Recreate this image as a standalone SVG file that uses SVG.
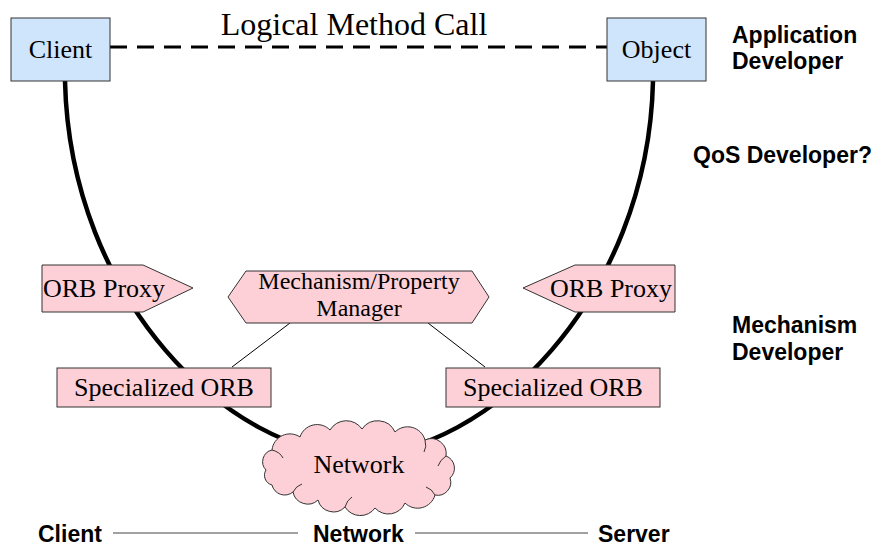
<svg xmlns="http://www.w3.org/2000/svg" width="881" height="546" viewBox="0 0 881 546">
  <style>
    .serif { font-family: "Liberation Serif", "Times New Roman", serif; fill: #000; }
    .label { font-family: "Liberation Sans", Arial, sans-serif; font-weight: bold; font-size: 23px; fill: #000; }
    .obj { fill: #cfe5fc; stroke: #333; stroke-width: 1; }
    .orb { fill: #fdd0d7; stroke: #333; stroke-width: 1; }
    .curl { fill: none; stroke: #333; stroke-width: 1; }
    .path { fill: none; stroke: #000; stroke-width: 4.5; }
    .link { fill: none; stroke: #000; stroke-width: 1; }
    .rule { stroke: #444; stroke-width: 1.2; }
  </style>
  <rect width="881" height="546" fill="#fff"/>

  <!-- connectors -->
  <g id="connectors">
    <path class="path" d="M65,81 C70,300 230,455 358,455 C486,455 648,300 653,81"/>
    <line x1="110" y1="47" x2="607" y2="47" stroke="#000" stroke-width="3" stroke-dasharray="17 10"/>
    <line class="link" x1="290" y1="323" x2="232" y2="367"/>
    <line class="link" x1="428" y1="323" x2="485" y2="367"/>
  </g>

  <text class="serif" x="354" y="35" font-size="32" text-anchor="middle">Logical Method Call</text>

  <g id="client">
    <rect class="obj" x="11" y="18" width="99" height="63"/>
    <text class="serif" x="60.5" y="58" font-size="26" text-anchor="middle">Client</text>
  </g>
  <g id="object">
    <rect class="obj" x="607" y="18" width="99" height="63"/>
    <text class="serif" x="656.5" y="58" font-size="26" text-anchor="middle">Object</text>
  </g>

  <g id="orb-proxy-client">
    <polygon class="orb" points="42,265 143,265 193,288 143,312 42,312"/>
    <text class="serif" x="43" y="297" font-size="26">ORB Proxy</text>
  </g>
  <g id="orb-proxy-server">
    <polygon class="orb" points="523,288 575,265 675,265 675,312 575,312"/>
    <text class="serif" x="672" y="297" font-size="26" text-anchor="end">ORB Proxy</text>
  </g>

  <g id="manager">
    <polygon class="orb" points="228,297 246,271 472,271 489,297 472,323 246,323"/>
    <text class="serif" x="359" y="289" font-size="24" text-anchor="middle">Mechanism/Property</text>
    <text class="serif" x="359" y="316" font-size="24" text-anchor="middle">Manager</text>
  </g>

  <g id="specialized-orb-client">
    <rect class="orb" x="57" y="368" width="214" height="39"/>
    <text class="serif" x="164" y="396" font-size="26" text-anchor="middle">Specialized ORB</text>
  </g>
  <g id="specialized-orb-server">
    <rect class="orb" x="446" y="368" width="214" height="39"/>
    <text class="serif" x="553" y="396" font-size="26" text-anchor="middle">Specialized ORB</text>
  </g>

  <g id="network">
    <path class="orb" d="M266,470 A12,12 0 0 1 272,450 A18,18 0 0 1 300,437 A18,18 0 0 1 330,430 A19,19 0 0 1 362,429 A19,19 0 0 1 395,432 A18,18 0 0 1 425,440 A15,15 0 0 1 446,456 A13,13 0 0 1 450,478 A13,13 0 0 1 435,495 A18,18 0 0 1 405,503 A18,18 0 0 1 375,508 A18,18 0 0 1 345,507 A16,16 0 0 1 318,500 A15,15 0 0 1 293,492 A13,13 0 0 1 272,485 A10,10 0 0 1 266,470 Z"/>
    <!-- inner curls of the cloud outline -->
    <path class="curl" d="M272,450 Q280,452 283,458"/>
    <path class="curl" d="M425,440 Q427,447 424,452"/>
    <path class="curl" d="M446,456 Q440,460 438,466"/>
    <path class="curl" d="M435,495 Q432,489 426,487"/>
    <path class="curl" d="M293,492 Q296,486 302,484"/>
    <path class="curl" d="M345,507 Q347,500 352,497"/>
    <text class="serif" x="359" y="473" font-size="26" text-anchor="middle">Network</text>
  </g>

  <g id="roles">
    <text class="label" x="732" y="43">Application</text>
    <text class="label" x="732" y="69">Developer</text>
    <text class="label" x="693" y="163">QoS Developer?</text>
    <text class="label" x="732" y="333">Mechanism</text>
    <text class="label" x="732" y="360">Developer</text>
  </g>

  <g id="tiers">
    <text class="label" x="38" y="542">Client</text>
    <line class="rule" x1="113" y1="533" x2="298" y2="533"/>
    <text class="label" x="313" y="542">Network</text>
    <line class="rule" x1="415" y1="533" x2="588" y2="533"/>
    <text class="label" x="598" y="542">Server</text>
  </g>
</svg>
